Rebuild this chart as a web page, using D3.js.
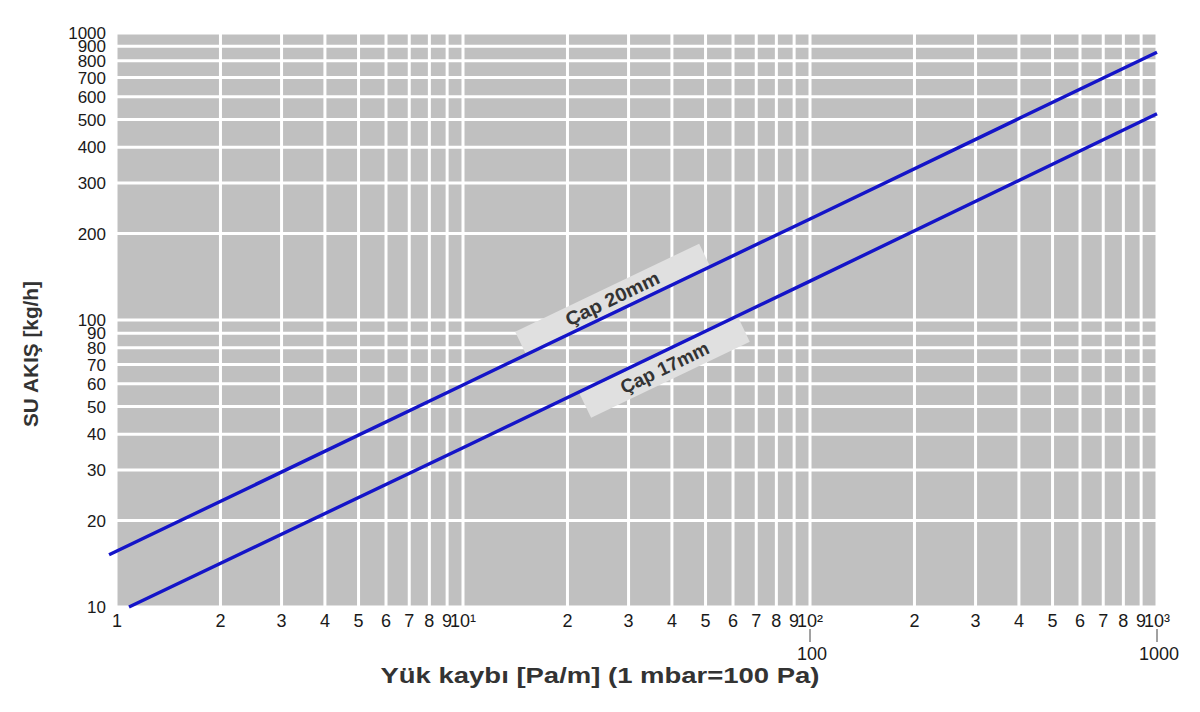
<!DOCTYPE html>
<html><head><meta charset="utf-8">
<script src="https://cdn.jsdelivr.net/npm/d3@7"></script>
<style>
body{margin:0;background:#fff}
svg{display:block}
text{font-family:"Liberation Sans",Arial,Helvetica,sans-serif}
</style>
</head><body>
<svg id="c" width="1200" height="712"></svg>
<script>
// ---- data ----
const pressureTicks = [1,2,3,4,5,6,7,8,9,10,20,30,40,50,60,70,80,90,100,200,300,400,500,600,700,800,900,1000];
const pressureLabels = ["1","2","3","4","5","6","7","8","9","10¹","2","3","4","5","6","7","8","9","10²","2","3","4","5","6","7","8","9","10³"];
const pressureDecadeTicks = [100, 1000];
const pressureDecadeLabels = ["100", "1000"];
const flowTicks = [10,20,30,40,50,60,70,80,90,100,200,300,400,500,600,700,800,900,1000];
const flowLabels = ["10","20","30","40","50","60","70","80","90","100","200","300","400","500","600","700","800","900","1000"];

const pipe20Pressure = [0.955, 10, 100, 1000];
const pipe20Flow     = [15.2, 59.4, 225, 857];
const pipe17Pressure = [1.09, 10, 100, 1000];
const pipe17Flow     = [10, 35.9, 136.6, 523];

const seriesNames = ["Çap 20mm", "Çap 17mm"];
const labelPressure = [28, 36.5];

const xTitle = "Yük kaybı [Pa/m] (1 mbar=100 Pa)";
const yTitle = "SU AKIŞ [kg/h]";

// ---- layout ----
const svg = d3.select("#c");
const x = d3.scaleLog().domain([1, 1000]).range([116, 1157]);
const y = d3.scaleLog().domain([10, 1000]).range([607, 33]);

svg.append("rect").attr("width",1200).attr("height",712).attr("fill","#fff");

svg.append("rect")
  .attr("x", x(1)).attr("y", y(1000))
  .attr("width", x(1000)-x(1)).attr("height", y(10)-y(1000))
  .attr("fill", "#c0c0c0");

const grid = svg.append("g");
grid.selectAll("line.v").data(pressureTicks).join("line")
  .attr("class","v")
  .attr("x1", d=>x(d)).attr("x2", d=>x(d))
  .attr("y1", y(1000)).attr("y2", y(10))
  .attr("stroke","#fff").attr("stroke-width",3);
grid.selectAll("line.h").data(flowTicks).join("line")
  .attr("class","h")
  .attr("y1", d=>y(d)).attr("y2", d=>y(d))
  .attr("x1", x(1)).attr("x2", x(1000))
  .attr("stroke","#fff").attr("stroke-width",3);

// y tick labels
svg.append("g").selectAll("text").data(flowTicks).join("text")
  .attr("x", 106).attr("y", d=>y(d))
  .attr("dy","0.36em")
  .attr("text-anchor","end")
  .attr("font-size",17)
  .attr("fill","#1a1a1a")
  .text((d,i)=>flowLabels[i]);

// x tick labels
svg.append("g").selectAll("text").data(pressureTicks).join("text")
  .attr("x", (d,i)=> x(d) + (i===0 ? 1 : 0))
  .attr("y", 627)
  .attr("text-anchor","middle")
  .attr("font-size",18)
  .attr("fill","#1a1a1a")
  .text((d,i)=>pressureLabels[i]);

// decade extra ticks
const dec = svg.append("g");
dec.selectAll("line").data(pressureDecadeTicks).join("line")
  .attr("x1", d=>x(d)).attr("x2", d=>x(d))
  .attr("y1", 629).attr("y2", 642)
  .attr("stroke","#444").attr("stroke-width",1);
dec.selectAll("text").data(pressureDecadeTicks).join("text")
  .attr("x", d=>x(d) + 2).attr("y", 660)
  .attr("text-anchor","middle")
  .attr("font-size",18)
  .attr("fill","#1a1a1a")
  .text((d,i)=>pressureDecadeLabels[i]);

// axis titles
svg.append("text")
  .attr("x", 600).attr("y", 683)
  .attr("text-anchor","middle")
  .attr("font-size",22).attr("font-weight","bold")
  .attr("fill","#333")
  .attr("textLength",439).attr("lengthAdjust","spacingAndGlyphs")
  .text(xTitle);

svg.append("text")
  .attr("transform","translate(38,354) rotate(-90)")
  .attr("text-anchor","middle")
  .attr("font-size",20).attr("font-weight","bold")
  .attr("fill","#333")
  .attr("textLength",146).attr("lengthAdjust","spacingAndGlyphs")
  .text(yTitle);

// series
const series = [
  {p: pipe20Pressure, f: pipe20Flow},
  {p: pipe17Pressure, f: pipe17Flow}
];
const line = d3.line().x(d=>x(d[0])).y(d=>y(d[1]));

function flowAt(s, p){
  const lp = Math.log10(p);
  for(let i=0;i<s.p.length-1;i++){
    const a = Math.log10(s.p[i]), b = Math.log10(s.p[i+1]);
    if(lp>=a && lp<=b){
      const t=(lp-a)/(b-a);
      return Math.pow(10, Math.log10(s.f[i]) + t*(Math.log10(s.f[i+1])-Math.log10(s.f[i])));
    }
  }
  return s.f[s.f.length-1];
}

const boxSpec = [
  {w:204, h:24, side:-1, fs:19, tl:102},
  {w:176, h:27, side: 1, fs:19, tl:96}
];
series.forEach((s,i)=>{
  const p = labelPressure[i];
  const cx0 = x(p), cy0 = y(flowAt(s,p));
  const p2 = p*1.2;
  const ang = Math.atan2(y(flowAt(s,p2))-cy0, x(p2)-cx0);
  const spec = boxSpec[i];
  const d = spec.h/2 + 1.5;
  const nx = -Math.sin(ang), ny = Math.cos(ang);
  const cx = cx0 + spec.side*d*nx, cy = cy0 + spec.side*d*ny;
  const g = svg.append("g").attr("transform",`translate(${cx},${cy}) rotate(${ang*180/Math.PI})`);
  g.append("rect").attr("x",-spec.w/2).attr("y",-spec.h/2)
    .attr("width",spec.w).attr("height",spec.h).attr("fill","#e0e0e0");
  g.append("text").attr("x",0).attr("y",0).attr("dy","0.35em")
    .attr("text-anchor","middle").attr("font-size",spec.fs).attr("font-weight","bold")
    .attr("fill","#333")
    .attr("textLength",spec.tl).attr("lengthAdjust","spacingAndGlyphs")
    .text(seriesNames[i]);
});

series.forEach(s=>{
  svg.append("path")
    .datum(s.p.map((p,i)=>[p, s.f[i]]))
    .attr("d", line)
    .attr("fill","none")
    .attr("stroke","#1414c8")
    .attr("stroke-width",3.4);
});
</script>
</body></html>
